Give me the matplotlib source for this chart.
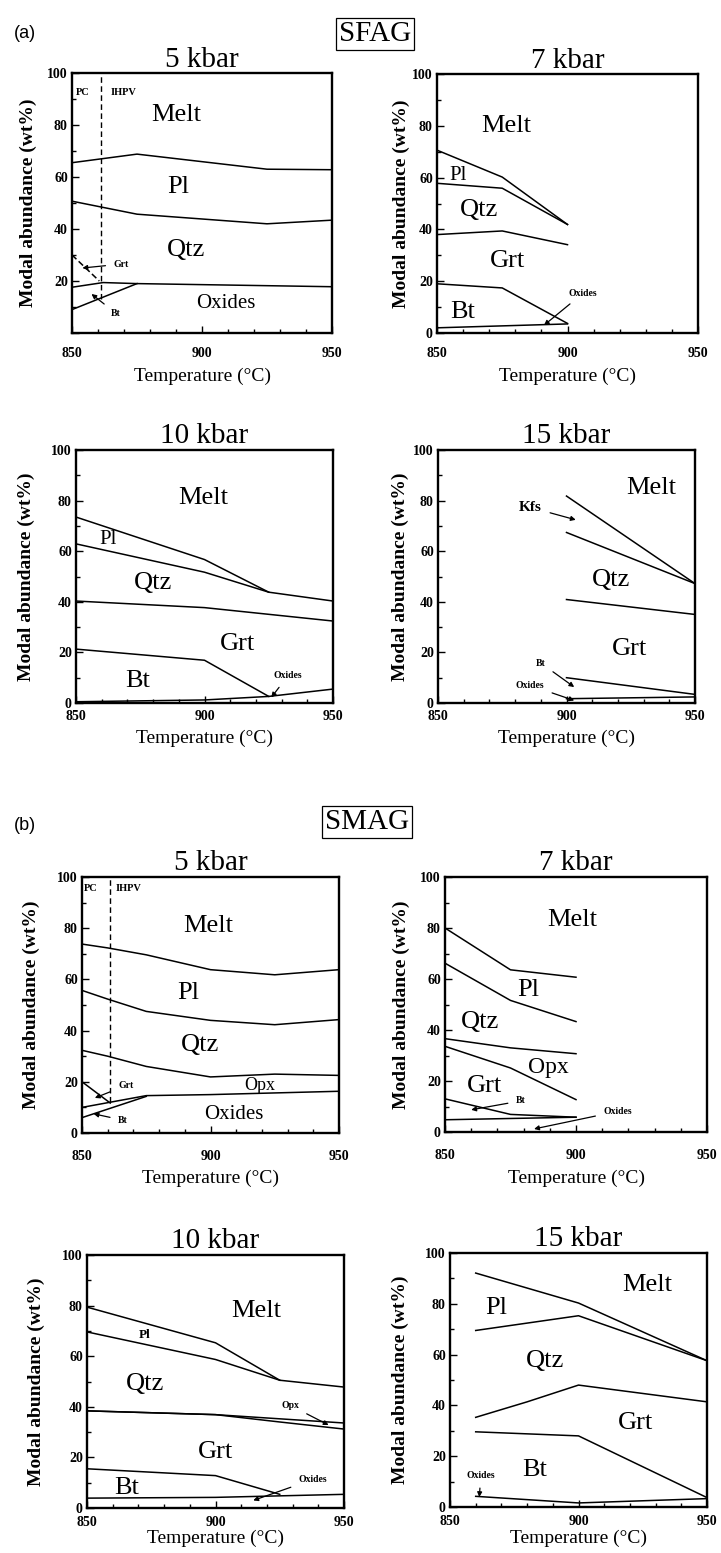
import matplotlib
matplotlib.use("Agg")
import matplotlib.pyplot as plt
from matplotlib.ticker import MultipleLocator, FixedLocator

W, H, DPI = 721, 1553, 100
SERIF = ['Liberation Serif', 'DejaVu Serif']
SANS = ['Liberation Sans', 'DejaVu Sans']
plt.rcParams['font.family'] = SERIF

# ---------------- data: SFAG ----------------
a5_melt_T = [850, 875, 925, 950];            a5_melt = [65.5, 68.8, 63.0, 62.8]
a5_pl_T = [850, 875, 925, 950];              a5_pl = [50.7, 45.7, 42.0, 43.4]
a5_qtz_T = [850, 862, 875, 950];             a5_qtz = [17.6, 19.4, 19.0, 17.8]
a5_bt_T = [850, 875];                        a5_bt = [9.0, 19.0]
a5_grt_T = [850, 860.5];                     a5_grt = [30.0, 20.0]
a5_pc_T = 861

a7_melt_T = [850, 875, 900];                 a7_melt = [70.6, 60.2, 41.9]
a7_pl_T = [850, 875, 900];                   a7_pl = [57.8, 55.9, 41.9]
a7_qtz_T = [850, 875, 900];                  a7_qtz = [38.0, 39.4, 34.1]
a7_grt_T = [850, 875, 900];                  a7_grt = [19.0, 17.4, 3.7]
a7_ox_T = [850, 900];                        a7_ox = [2.0, 3.5]

a10_melt_T = [850, 900, 925, 950];           a10_melt = [73.5, 56.7, 43.8, 40.3]
a10_pl_T = [850, 900, 925];                  a10_pl = [62.9, 51.7, 43.8]
a10_qtz_T = [850, 900, 950];                 a10_qtz = [40.3, 37.7, 32.4]
a10_grt_T = [850, 900, 925];                 a10_grt = [21.3, 16.9, 2.6]
a10_ox_T = [850, 900, 925, 950];             a10_ox = [0.5, 1.2, 2.6, 5.5]

a15_melt_T = [900, 950];                     a15_melt = [81.8, 47.2]
a15_kfs_T = [900, 950];                      a15_kfs = [67.4, 47.2]
a15_qtz_T = [900, 950];                      a15_qtz = [40.9, 35.0]
a15_grt_T = [900, 950];                      a15_grt = [10.0, 3.4]
a15_bt_T = [900, 950];                       a15_bt = [1.7, 2.4]

# ---------------- data: SMAG ----------------
b5_melt_T = [850, 860, 875, 900, 925, 950];  b5_melt = [73.8, 72.3, 69.6, 63.8, 61.8, 63.8]
b5_pl_T = [850, 860, 875, 900, 925, 950];    b5_pl = [55.7, 52.3, 47.5, 44.0, 42.3, 44.3]
b5_qtz_T = [850, 860, 875, 900, 925, 950];   b5_qtz = [32.3, 30.0, 26.0, 21.9, 23.0, 22.5]
b5_opx_T = [850, 875, 900, 950];             b5_opx = [10.0, 14.6, 15.0, 16.3]
b5_bt_T = [850, 875];                        b5_bt = [6.0, 14.3]
b5_grt_T = [850, 861];                       b5_grt = [20.0, 11.7]
b5_pc_T = 861

b7_melt_T = [850, 875, 900];                 b7_melt = [80.0, 63.6, 60.7]
b7_pl_T = [850, 875, 900];                   b7_pl = [66.2, 51.6, 43.3]
b7_qtz_T = [850, 875, 900];                  b7_qtz = [36.6, 33.0, 30.7]
b7_opx_T = [850, 875, 900];                  b7_opx = [33.6, 25.1, 12.7]
b7_grt_T = [850, 875, 900];                  b7_grt = [13.0, 6.9, 5.8]
b7_ox_T = [850, 900];                        b7_ox = [4.8, 5.8]

b10_melt_T = [850, 900, 925, 950];           b10_melt = [79.4, 65.3, 50.5, 47.8]
b10_pl_T = [850, 900, 925];                  b10_pl = [69.6, 58.7, 50.5]
b10_qtz_T = [850, 900, 950];                 b10_qtz = [38.4, 36.9, 33.6]
b10_opx_T = [850, 900, 925, 950];            b10_opx = [38.4, 36.9, 34.0, 31.2]
b10_grt_T = [850, 900, 925];                 b10_grt = [15.5, 12.8, 5.4]
b10_ox_T = [850, 900, 950];                  b10_ox = [3.9, 4.2, 5.4]

b15_melt_T = [860, 900, 950];                b15_melt = [92.1, 80.3, 57.6]
b15_pl_T = [860, 900, 950];                  b15_pl = [69.5, 75.3, 57.6]
b15_qtz_T = [860, 880, 900, 950];            b15_qtz = [35.3, 41.4, 48.0, 41.4]
b15_grt_T = [860, 900, 950];                 b15_grt = [29.6, 28.0, 3.7]
b15_ox_T = [860, 900, 950];                  b15_ox = [4.2, 1.6, 3.3]

x_ticks = [850, 900, 950]
y_ticks = [0, 20, 40, 60, 80, 100]

fig = plt.figure(figsize=(W / DPI, H / DPI), dpi=DPI)
fig.patch.set_facecolor('white')

PH = 19  # phase label size


def make_ax(box, title, tpad, xpad, xl_top, yl_center, zero=True):
    l, t, r, b = box
    ax = fig.add_axes([l / W, 1 - b / H, (r - l) / W, (b - t) / H])
    ax.set_xlim(850, 950)
    ax.set_ylim(0, 100)
    ax.xaxis.set_major_locator(FixedLocator(x_ticks))
    ax.xaxis.set_minor_locator(MultipleLocator(10))
    ax.yaxis.set_major_locator(FixedLocator(y_ticks))
    ax.yaxis.set_minor_locator(MultipleLocator(10))
    ax.tick_params(which='both', direction='in', top=False, right=False, width=1.0)
    ax.tick_params(which='major', length=5)
    ax.tick_params(which='minor', length=3)
    ax.tick_params(axis='x', pad=xpad)
    ax.tick_params(axis='y', pad=3)
    ylabs = [str(v) for v in y_ticks]
    if not zero:
        ylabs[0] = ''
    ax.set_yticklabels(ylabs)
    for lab in ax.get_xticklabels() + ax.get_yticklabels():
        lab.set_fontweight('bold')
        lab.set_fontsize(10)
    for s in ax.spines.values():
        s.set_linewidth(1.7)
    ax.set_title(title, fontsize=21, pad=tpad)
    ax.set_ylabel('Modal abundance (wt%)', fontsize=14, fontweight='bold')
    ax.yaxis.set_label_coords((yl_center + 7 - l) / (r - l), 0.5)
    ax.set_xlabel('Temperature (°C)', fontsize=14)
    ax.xaxis.set_label_coords(0.5, -(xl_top - b) / (b - t))
    return ax


def line(ax, x, y, **kw):
    ax.plot(x, y, color='black', lw=1.1, **kw)


def lab(ax, x, y, s, size=PH, weight='normal'):
    ax.text(x, y, s, fontsize=size, fontweight=weight, ha='center', va='center')


def arr(ax, s, xy, xytext, size=7):
    ax.annotate(s, xy=xy, xytext=xytext, fontsize=size, fontweight='bold',
                ha='center', va='center',
                arrowprops=dict(arrowstyle='-|>', color='black', lw=0.9,
                                mutation_scale=7, shrinkA=4, shrinkB=0))


# ---------------- figure labels ----------------
fig.text(25 / W, 1 - 34 / H, '(a)', fontsize=13, family=SANS, ha='center', va='center')
fig.text(375 / W, 1 - 34 / H, 'SFAG', fontsize=21, ha='center', va='center',
         bbox=dict(boxstyle='square,pad=0.1', fc='white', ec='black', lw=0.9))
fig.text(25 / W, 1 - 826 / H, '(b)', fontsize=13, family=SANS, ha='center', va='center')
fig.text(367 / W, 1 - 822 / H, 'SMAG', fontsize=21, ha='center', va='center',
         bbox=dict(boxstyle='square,pad=0.1', fc='white', ec='black', lw=0.9))

# ---------------- SFAG 5 kbar ----------------
ax = make_ax((72, 73, 332, 333), '5 kbar', 1.5, 10, 368, 30, zero=False)
line(ax, a5_melt_T, a5_melt)
line(ax, a5_pl_T, a5_pl)
line(ax, a5_qtz_T, a5_qtz)
line(ax, a5_bt_T, a5_bt)
line(ax, a5_grt_T, a5_grt, ls=(0, (4, 2)))
ax.plot([a5_pc_T, a5_pc_T], [13, 100], color='black', lw=1.0, ls=(0, (4, 2.5)))
lab(ax, 854, 92.5, 'PC', 7.5, 'bold')
lab(ax, 870, 92.5, 'IHPV', 7.5, 'bold')
lab(ax, 890, 84, 'Melt')
lab(ax, 891, 56, 'Pl')
lab(ax, 894, 32, 'Qtz')
lab(ax, 909, 11.4, 'Oxides', 15)
arr(ax, 'Grt', (854, 25), (869, 26.5))
arr(ax, 'Bt', (857.5, 15), (867, 7.5))

# ---------------- SFAG 7 kbar ----------------
ax = make_ax((437, 74, 698, 333), '7 kbar', 1.5, 10, 368, 403)
line(ax, a7_melt_T, a7_melt)
line(ax, a7_pl_T, a7_pl)
line(ax, a7_qtz_T, a7_qtz)
line(ax, a7_grt_T, a7_grt)
line(ax, a7_ox_T, a7_ox)
lab(ax, 876.5, 80, 'Melt')
lab(ax, 858, 61, 'Pl', 15)
lab(ax, 866, 47.4, 'Qtz')
lab(ax, 877, 27.8, 'Grt')
lab(ax, 860, 8.2, 'Bt')
arr(ax, 'Oxides', (891, 3), (906, 15.4))

# ---------------- SFAG 10 kbar ----------------
ax = make_ax((76, 450, 333, 703), '10 kbar', 5, 5, 730, 28)
line(ax, a10_melt_T, a10_melt)
line(ax, a10_pl_T, a10_pl)
line(ax, a10_qtz_T, a10_qtz)
line(ax, a10_grt_T, a10_grt)
line(ax, a10_ox_T, a10_ox)
lab(ax, 899.5, 81, 'Melt')
lab(ax, 862.6, 64.6, 'Pl', 15)
lab(ax, 880, 47.5, 'Qtz')
lab(ax, 913, 23.2, 'Grt')
lab(ax, 874, 8.8, 'Bt')
arr(ax, 'Oxides', (926, 2.2), (932.5, 10.8))

# ---------------- SFAG 15 kbar ----------------
ax = make_ax((438, 450, 695, 703), '15 kbar', 5, 5, 730, 402)
line(ax, a15_melt_T, a15_melt)
line(ax, a15_kfs_T, a15_kfs)
line(ax, a15_qtz_T, a15_qtz)
line(ax, a15_grt_T, a15_grt)
line(ax, a15_bt_T, a15_bt)
lab(ax, 933, 84.8, 'Melt')
lab(ax, 917.5, 48.8, 'Qtz')
lab(ax, 924.7, 21.5, 'Grt')
arr(ax, 'Kfs', (903.6, 72.4), (886, 77.3), 11)
arr(ax, 'Bt', (903, 6.3), (890, 15.8))
arr(ax, 'Oxides', (903, 1.0), (885.7, 7.0))

# ---------------- SMAG 5 kbar ----------------
ax = make_ax((82, 877, 339, 1133), '5 kbar', 5, 12, 1170, 33)
line(ax, b5_melt_T, b5_melt)
line(ax, b5_pl_T, b5_pl)
line(ax, b5_qtz_T, b5_qtz)
line(ax, b5_opx_T, b5_opx)
line(ax, b5_bt_T, b5_bt)
line(ax, b5_grt_T, b5_grt)
ax.plot([b5_pc_T, b5_pc_T], [12, 100], color='black', lw=1.0, ls=(0, (4, 2.5)))
lab(ax, 853.5, 95.5, 'PC', 7.5, 'bold')
lab(ax, 868, 95.5, 'IHPV', 7.5, 'bold')
lab(ax, 899, 81, 'Melt')
lab(ax, 891.4, 54.7, 'Pl')
lab(ax, 896, 34.5, 'Qtz')
lab(ax, 919, 18.5, 'Opx', 13)
lab(ax, 909, 7.2, 'Oxides', 15)
arr(ax, 'Grt', (855, 13.7), (867, 18.5))
arr(ax, 'Bt', (854.5, 7.5), (866, 5.0))

# ---------------- SMAG 7 kbar ----------------
ax = make_ax((445, 877, 707, 1132), '7 kbar', 5, 12, 1170, 403)
line(ax, b7_melt_T, b7_melt)
line(ax, b7_pl_T, b7_pl)
line(ax, b7_qtz_T, b7_qtz)
line(ax, b7_opx_T, b7_opx)
line(ax, b7_grt_T, b7_grt)
line(ax, b7_ox_T, b7_ox)
lab(ax, 898.4, 83.3, 'Melt')
lab(ax, 881.8, 55.5, 'Pl')
lab(ax, 863.4, 43, 'Qtz')
lab(ax, 889.5, 25.3, 'Opx', 17)
lab(ax, 865, 18, 'Grt')
arr(ax, 'Bt', (860, 8.7), (879, 12.2))
arr(ax, 'Oxides', (884, 1.2), (916, 8.1))

# ---------------- SMAG 10 kbar ----------------
ax = make_ax((87, 1255, 344, 1508), '10 kbar', 5, 6, 1530, 38)
line(ax, b10_melt_T, b10_melt)
line(ax, b10_pl_T, b10_pl)
line(ax, b10_qtz_T, b10_qtz)
line(ax, b10_opx_T, b10_opx)
line(ax, b10_grt_T, b10_grt)
line(ax, b10_ox_T, b10_ox)
lab(ax, 916, 77.7, 'Melt')
lab(ax, 872.5, 68.2, 'Pl', 9.5, 'bold')
lab(ax, 872.5, 48.9, 'Qtz')
lab(ax, 900, 22.3, 'Grt')
lab(ax, 865.3, 7.9, 'Bt')
arr(ax, 'Opx', (944, 32.8), (929, 40.6))
arr(ax, 'Oxides', (914.7, 3.0), (938, 11.3))

# ---------------- SMAG 15 kbar ----------------
ax = make_ax((450, 1253, 707, 1507), '15 kbar', 5, 6, 1530, 402)
line(ax, b15_melt_T, b15_melt)
line(ax, b15_pl_T, b15_pl)
line(ax, b15_qtz_T, b15_qtz)
line(ax, b15_grt_T, b15_grt)
line(ax, b15_ox_T, b15_ox)
lab(ax, 926.6, 87.5, 'Melt')
lab(ax, 868, 78.3, 'Pl')
lab(ax, 887, 57.6, 'Qtz')
lab(ax, 922, 33, 'Grt')
lab(ax, 883, 14.5, 'Bt')
arr(ax, 'Oxides', (861.4, 3.9), (862, 12.5))

fig.savefig('out.png', dpi=DPI, facecolor='white')
